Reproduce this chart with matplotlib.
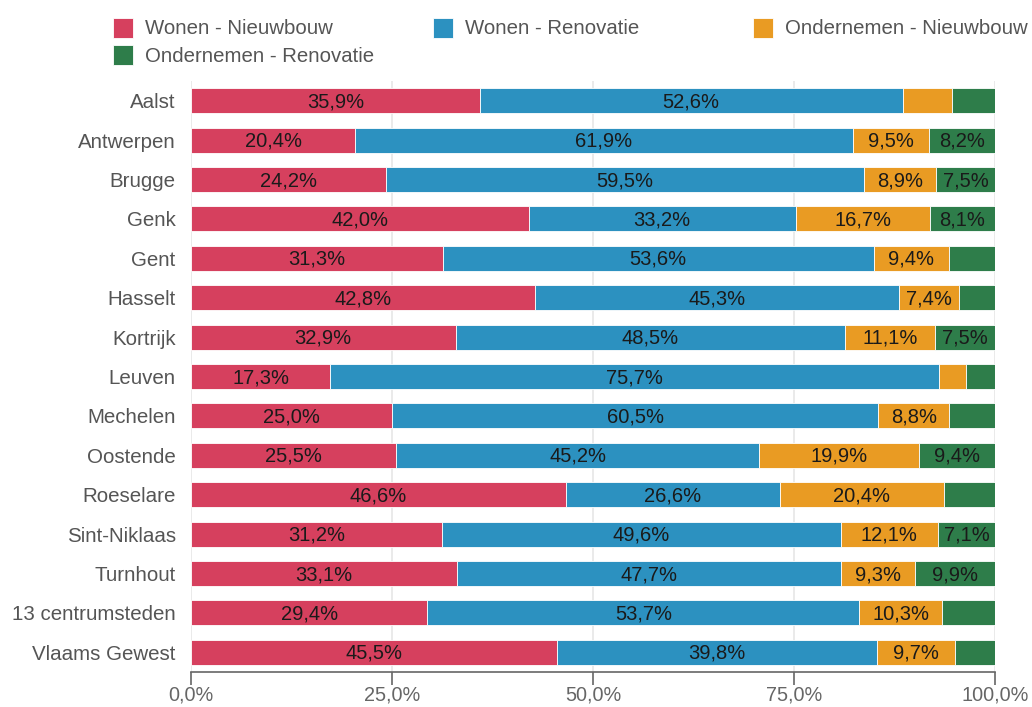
import numpy as np
import matplotlib.pyplot as plt
from matplotlib.patches import Rectangle

plt.rcParams['font.family'] = ['Liberation Sans', 'DejaVu Sans']

steden = ['Aalst', 'Antwerpen', 'Brugge', 'Genk', 'Gent', 'Hasselt', 'Kortrijk',
          'Leuven', 'Mechelen', 'Oostende', 'Roeselare', 'Sint-Niklaas',
          'Turnhout', '13 centrumsteden', 'Vlaams Gewest']

wonen_nieuw = [35.9, 20.4, 24.2, 42.0, 31.3, 42.8, 32.9, 17.3, 25.0, 25.5, 46.6, 31.2, 33.1, 29.4, 45.5]
wonen_reno = [52.6, 61.9, 59.5, 33.2, 53.6, 45.3, 48.5, 75.7, 60.5, 45.2, 26.6, 49.6, 47.7, 53.7, 39.8]
onder_nieuw = [6.1, 9.5, 8.9, 16.7, 9.4, 7.4, 11.1, 3.4, 8.8, 19.9, 20.4, 12.1, 9.3, 10.3, 9.7]
onder_reno = [5.4, 8.2, 7.5, 8.1, 5.7, 4.5, 7.5, 3.6, 5.7, 9.4, 6.4, 7.1, 9.9, 6.6, 5.0]

reeksen = ['Wonen - Nieuwbouw', 'Wonen - Renovatie', 'Ondernemen - Nieuwbouw', 'Ondernemen - Renovatie']
kleuren = ['#d6405e', '#2c91c0', '#e99b23', '#2e7d4a']
waarden = [wonen_nieuw, wonen_reno, onder_nieuw, onder_reno]

fig = plt.figure(figsize=(10.32, 7.07), dpi=100)
ax = fig.add_axes([191 / 1032, 1 - 672 / 707, 804 / 1032, 591 / 707])

y = np.arange(len(steden))
links = np.zeros(len(steden))
for naam, kleur, vals in zip(reeksen, kleuren, waarden):
    vals = np.array(vals)
    ax.barh(y, vals, left=links, height=0.635, color=kleur,
            edgecolor='white', linewidth=0.6, zorder=2)
    for yi, l, v in zip(y, links, vals):
        if v >= 7.0:
            ax.text(l + v / 2, yi + 0.03, f'{v:.1f}'.replace('.', ',') + '%',
                    ha='center', va='center', fontsize=14.5, color='#1a1a1a', zorder=3)
    links += vals

ax.set_xlim(0, 100)
ax.set_ylim(len(steden) - 0.5, -0.5)
ax.set_yticks(y)
ax.set_yticklabels(steden, fontsize=14.8, color='#555555')
ax.set_xticks([0, 25, 50, 75, 100])
ax.set_xticklabels(['0,0%', '25,0%', '50,0%', '75,0%', '100,0%'], fontsize=14.3, color='#666666')
ax.tick_params(axis='y', length=0, pad=11)
ax.tick_params(axis='x', length=9, width=1.2, color='#666666', pad=1)
ax.grid(axis='x', color='#e6e6e6', linewidth=1.2, zorder=0)
ax.set_axisbelow(True)
for s in ['top', 'right', 'left']:
    ax.spines[s].set_visible(False)
ax.spines['bottom'].set_color('#666666')
ax.spines['bottom'].set_linewidth(1.2)

# legend, drawn by hand to get the fixed column layout
leg_pos = [(113, 28), (433, 28), (753, 28), (113, 55)]
for (px, py), naam, kleur in zip(leg_pos, reeksen, kleuren):
    fig.patches.append(Rectangle((px / 1032, 1 - (py + 10) / 707), 20 / 1032, 20 / 707,
                                 transform=fig.transFigure, facecolor=kleur,
                                 edgecolor='white', linewidth=0.6))
    fig.text((px + 32) / 1032, 1 - (py + 1) / 707, naam, fontsize=14.7,
             color='#555555', va='center', ha='left')

plt.savefig('out.png', dpi=100)
